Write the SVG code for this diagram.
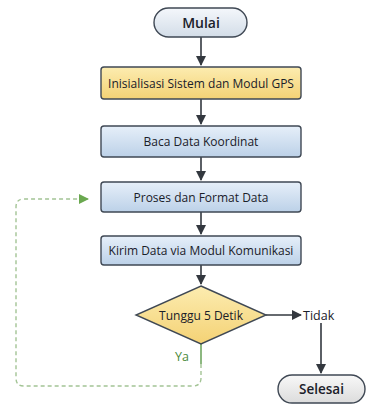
<svg xmlns="http://www.w3.org/2000/svg" width="369" height="414" viewBox="0 0 369 414">
<defs>
<linearGradient id="gBlue" x1="0" y1="0" x2="0" y2="1">
<stop offset="0" stop-color="#e6eff9"/><stop offset="1" stop-color="#bcd1e8"/>
</linearGradient>
<linearGradient id="gYel" x1="0" y1="0" x2="0" y2="1">
<stop offset="0" stop-color="#fcecb0"/><stop offset="1" stop-color="#f4d275"/>
</linearGradient>
<linearGradient id="gPill" x1="0" y1="0" x2="0" y2="1">
<stop offset="0" stop-color="#f4f7fb"/><stop offset="1" stop-color="#d3dde8"/>
</linearGradient>
<linearGradient id="gGray" x1="0" y1="0" x2="0" y2="1">
<stop offset="0" stop-color="#f8f8f8"/><stop offset="1" stop-color="#dcdcdc"/>
</linearGradient>
<marker id="arr" viewBox="0 0 10 10" refX="9" refY="5" markerWidth="10" markerHeight="10" markerUnits="userSpaceOnUse" orient="auto">
<path d="M0,0 L10,5 L0,10 z" fill="#33383f"/>
</marker>
<marker id="arrG" viewBox="0 0 10 10" refX="9" refY="5" markerWidth="10" markerHeight="10" markerUnits="userSpaceOnUse" orient="auto">
<path d="M0,0 L10,5 L0,10 z" fill="#6aa84f"/>
</marker>
</defs>
<style>
.box{stroke:#3f4854;stroke-width:1.4}
.t{font-family:"Open Sans","Noto Sans",sans-serif;font-size:12px;fill:#1a2029;text-anchor:middle;dominant-baseline:central}
.tb{font-size:14px;font-weight:600}
.ln{fill:none;stroke:#33383f;stroke-width:1.6}
.dash{fill:none;stroke:#a3c495;stroke-width:1.4;stroke-dasharray:4 3}
</style>
<rect width="369" height="414" fill="#ffffff"/>
<g id="connectors">
<line class="ln" x1="201" y1="37" x2="201" y2="65" marker-end="url(#arr)"/>
<line class="ln" x1="201" y1="99" x2="201" y2="124" marker-end="url(#arr)"/>
<line class="ln" x1="201" y1="157" x2="201" y2="180" marker-end="url(#arr)"/>
<line class="ln" x1="201" y1="212" x2="201" y2="234" marker-end="url(#arr)"/>
<line class="ln" x1="201" y1="265" x2="201" y2="284" marker-end="url(#arr)"/>
<line class="ln" x1="266" y1="315" x2="301" y2="315" marker-end="url(#arr)"/>
<line class="ln" x1="321" y1="323" x2="321" y2="373" marker-end="url(#arr)"/>
<line x1="201" y1="344" x2="201" y2="364" stroke="#5c9a4a" stroke-width="1.4"/>
<path class="dash" d="M201,364 V378 Q201,386 193,386 H24 Q16,386 16,378 V207 Q16,199 24,199 H88" marker-end="url(#arrG)"/>
<text class="t" x="182" y="356" style="fill:#4a8a3a;font-size:12.5px">Ya</text>
<text class="t" x="303" y="315" style="text-anchor:start;font-size:12.5px">Tidak</text>
</g>
<g id="mulai">
<rect class="box" x="154" y="8" width="93" height="29" rx="14.5" fill="url(#gPill)"/>
<text class="t tb" x="201" y="22.5">Mulai</text>
</g>
<g id="inisialisasi">
<rect class="box" x="101" y="67" width="200" height="32" rx="3" fill="url(#gYel)"/>
<text class="t" x="201" y="83">Inisialisasi Sistem dan Modul GPS</text>
</g>
<g id="baca">
<rect class="box" x="101" y="126" width="200" height="31" rx="3" fill="url(#gBlue)"/>
<text class="t" x="201" y="141.5">Baca Data Koordinat</text>
</g>
<g id="proses">
<rect class="box" x="101" y="182" width="200" height="30" rx="3" fill="url(#gBlue)"/>
<text class="t" x="201" y="197">Proses dan Format Data</text>
</g>
<g id="kirim">
<rect class="box" x="101" y="236" width="200" height="29" rx="3" fill="url(#gBlue)"/>
<text class="t" x="201" y="250.5">Kirim Data via Modul Komunikasi</text>
</g>
<g id="tunggu">
<polygon class="box" points="201,286 266,315 201,344 136,315" fill="url(#gYel)"/>
<text class="t" x="201" y="315">Tunggu 5 Detik</text>
</g>
<g id="selesai">
<rect class="box" x="278" y="375" width="87" height="28" rx="14" fill="url(#gGray)"/>
<text class="t tb" x="321.5" y="389" style="font-size:13.5px">Selesai</text>
</g>
</svg>
